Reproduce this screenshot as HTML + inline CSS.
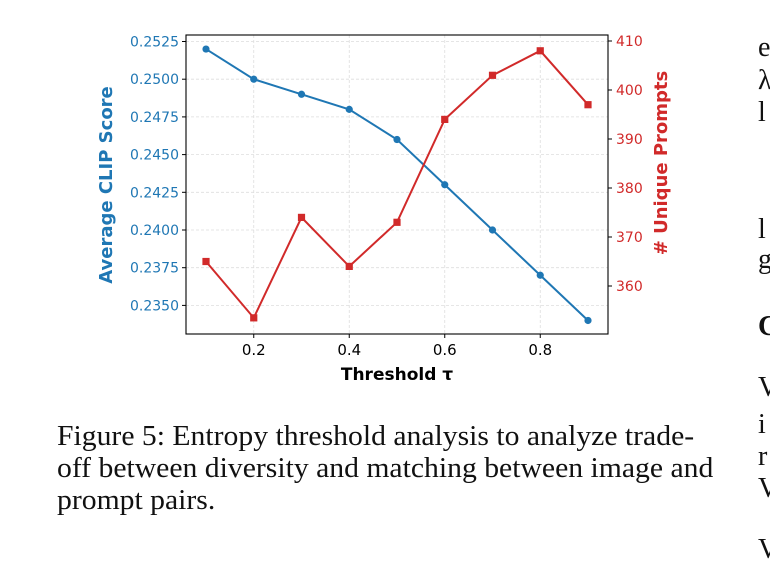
<!DOCTYPE html>
<html><head><meta charset="utf-8"><style>
body{margin:0;background:#fff;width:770px;height:558px;overflow:hidden;position:relative;font-family:"Liberation Serif",serif}
.cap{position:absolute;left:57px;font-size:28px;color:#111;white-space:nowrap;transform-origin:0 0;transform:scaleX(1.06)}
.side{position:absolute;left:758px;font-size:28px;color:#111}
</style></head><body>
<svg id="chart" width="770" height="400" style="position:absolute;left:0;top:0" font-family="DejaVu Sans, sans-serif"></svg>
<div class="cap" style="top:421px">Figure 5: Entropy threshold analysis to analyze trade-</div>
<div class="cap" style="top:453px">off between diversity and matching between image and</div>
<div class="cap" style="top:485px">prompt pairs.</div>
<div class="side" style="top:32px">e</div>
<div class="side" style="top:65px">λ</div>
<div class="side" style="top:97px">l</div>
<div class="side" style="top:214px">l</div>
<div class="side" style="top:244px">g</div>
<div class="side" style="top:311px;font-weight:bold">C</div>
<div class="side" style="top:372px">V</div>
<div class="side" style="top:409px">i</div>
<div class="side" style="top:441px">r</div>
<div class="side" style="top:473px">V</div>
<div class="side" style="top:534px">V</div>
<script>
const thresholds=[0.1,0.2,0.3,0.4,0.5,0.6,0.7,0.8,0.9];
const clipScores=[0.2520,0.2500,0.2490,0.2480,0.2460,0.2430,0.2400,0.2370,0.2340];
const uniquePrompts=[365,353.5,374,364,373,394,403,408,397];
const xTicks=[0.2,0.4,0.6,0.8];
const leftTicks=[0.2350,0.2375,0.2400,0.2425,0.2450,0.2475,0.2500,0.2525];
const rightTicks=[360,370,380,390,400,410];
const L=186,R=608,T=35,B=334;
const X=v=>206+(v-0.1)*477.5;
const YL=v=>41.5+(0.2525-v)/0.0025*37.7;
const YR=v=>41+(410-v)*4.9;
const svg=document.getElementById('chart');
const NS='http://www.w3.org/2000/svg';
function mk(t,a,p){const e=document.createElementNS(NS,t);for(const k in a)e.setAttribute(k,a[k]);(p||svg).appendChild(e);return e;}
const blue='#1f77b4',red='#d12a2a';
xTicks.forEach(v=>{const g=mk('line',{x1:X(v),x2:X(v),y1:T,y2:B,stroke:'#ddd','stroke-dasharray':'3,2','stroke-width':0.8});

});
leftTicks.forEach(v=>{const g=mk('line',{x1:L,x2:R,y1:YL(v),y2:YL(v),stroke:'#ddd','stroke-dasharray':'3,2','stroke-width':0.8});

});
const fr=mk('rect',{x:L,y:T,width:R-L,height:B-T,fill:'none',stroke:'#000','stroke-width':1.1});


xTicks.forEach(v=>{mk('line',{x1:X(v),x2:X(v),y1:B,y2:B+4,stroke:'#000'});
const t=mk('text',{x:X(v),y:B+21,'text-anchor':'middle','font-size':15,fill:'#000'});t.textContent=v.toFixed(1);

});
leftTicks.forEach(v=>{mk('line',{x1:L-4,x2:L,y1:YL(v),y2:YL(v),stroke:'#000'});
const t=mk('text',{x:L-7,y:YL(v)+5,'text-anchor':'end','font-size':14,fill:blue});t.textContent=v.toFixed(4);

});
rightTicks.forEach(v=>{mk('line',{x1:R,x2:R+4,y1:YR(v),y2:YR(v),stroke:'#000'});
const t=mk('text',{x:R+8,y:YR(v)+5,'font-size':14,fill:red});t.textContent=v;

});
let at=mk('text',{x:397,y:380,'text-anchor':'middle','font-size':17,'font-weight':'bold',fill:'#000'});at.textContent='Threshold τ';


at=mk('text',{transform:'translate(112,185) rotate(-90)','text-anchor':'middle','font-size':18,'font-weight':'bold',fill:blue});at.textContent='Average CLIP Score';


at=mk('text',{transform:'translate(667,163) rotate(-90)','text-anchor':'middle','font-size':18,'font-weight':'bold',fill:red});at.textContent='# Unique Prompts';


const bl=mk('polyline',{points:thresholds.map((t,i)=>X(t)+','+YL(clipScores[i])).join(' '),fill:'none',stroke:blue,'stroke-width':2});


thresholds.forEach((t,i)=>{const c=mk('circle',{cx:X(t),cy:YL(clipScores[i]),r:3.6,fill:blue});

});
const rl=mk('polyline',{points:thresholds.map((t,i)=>X(t)+','+YR(uniquePrompts[i])).join(' '),fill:'none',stroke:red,'stroke-width':2});


thresholds.forEach((t,i)=>{const s=mk('rect',{x:X(t)-3.6,y:YR(uniquePrompts[i])-3.6,width:7.2,height:7.2,fill:red});

});
</script>
</body></html>
